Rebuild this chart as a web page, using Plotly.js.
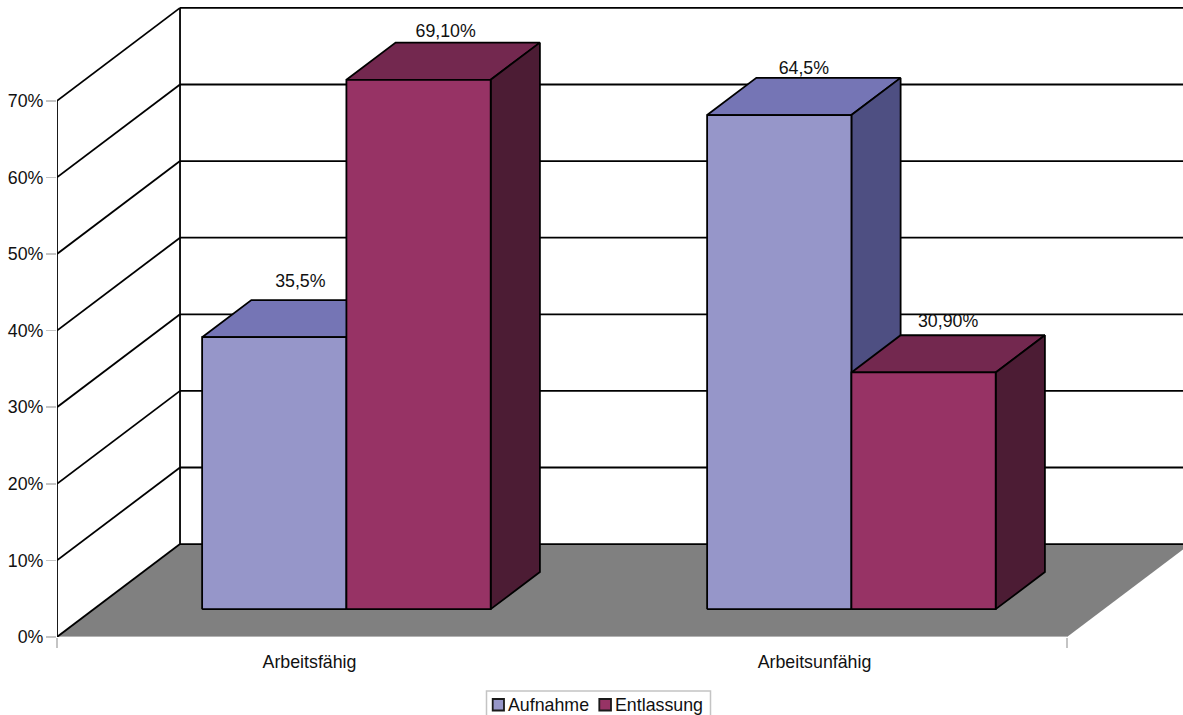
<!DOCTYPE html>
<html>
<head>
<meta charset="utf-8">
<script src="https://cdn.plot.ly/plotly-3.0.1.min.js"></script>
<style>html,body{margin:0;padding:0;background:#fff;overflow:hidden}</style>
</head>
<body>
<div id="chart" style="width:1183px;height:715px"></div>
<script>
// Values
var categories = ['Arbeitsfähig', 'Arbeitsunfähig'];
var seriesNames = ['Aufnahme', 'Entlassung'];
var aufnahme = [35.5, 64.5];
var entlassung = [69.1, 30.9];
var aufnahmeLabels = ['35,5%', '64,5%'];
var entlassungLabels = ['69,10%', '30,90%'];
var aufnahmeLabelLift = [4.7, 3.5];
var entlassungLabelLift = [3.8, 4.1];
var aufnahmeLabelNudge = [0.003, 0];
var entlassungLabelNudge = [0.005, 0];
var yTicks = [0, 10, 20, 30, 40, 50, 60, 70];
var yTickLabels = ['0%', '10%', '20%', '30%', '40%', '50%', '60%', '70%'];

// Colours: front, top, side of each series
var aufnahmeColors = ['#9696c9', '#7575b5', '#4e4f82'];
var entlassungColors = ['#973365', '#73284f', '#4c1c34'];
var floorColor = '#808080';
var edge = '#000000';
var tickGrey = '#c4c4c4';
var textColor = '#111111';
var fontFamily = '"Liberation Sans", Arial, sans-serif';
var fontSize = 17.8;
var edgeWidth = 1.8;

// Oblique projection of the chart box, in axis units
var wallDepthX = 0.2436;   // category units
var wallDepthY = 12.13;    // percent units
var barDepthStart = 0.3;   // fraction of box depth
var barDepthEnd = 0.7;
var barWidth = 1 / 3.5;    // category units
var yMax = 70;

function project(x, y, depth) {
  return [x + depth * wallDepthX, y + depth * wallDepthY];
}

function poly(points, color, width, lineColor) {
  return {
    type: 'scatter', mode: 'lines', x: points.map(function (p) { return p[0]; }),
    y: points.map(function (p) { return p[1]; }),
    fill: 'toself', fillcolor: color,
    line: {color: lineColor || edge, width: width === undefined ? edgeWidth : width},
    cliponaxis: false, hoverinfo: 'skip', showlegend: false
  };
}

function line(points, color, width) {
  return {
    type: 'scatter', mode: 'lines', x: points.map(function (p) { return p[0]; }),
    y: points.map(function (p) { return p[1]; }),
    line: {color: color || edge, width: width || edgeWidth},
    cliponaxis: false, hoverinfo: 'skip', showlegend: false
  };
}

// One box: top and side first, front face last
function box(x0, x1, v, colors) {
  var d0 = barDepthStart, d1 = barDepthEnd;
  return [
    poly([project(x0, v, d0), project(x0, v, d1), project(x1, v, d1), project(x1, v, d0), project(x0, v, d0)], colors[1]),
    poly([project(x1, 0, d0), project(x1, 0, d1), project(x1, v, d1), project(x1, v, d0), project(x1, 0, d0)], colors[2]),
    poly([project(x0, 0, d0), project(x1, 0, d0), project(x1, v, d0), project(x0, v, d0), project(x0, 0, d0)], colors[0])
  ];
}

var traces = [];

// Floor, running out past the right edge of the page
traces.push(poly([project(0, 0, 0), project(2, 0, 0), project(2, 0, 1), project(0, 0, 1), project(0, 0, 0)], floorColor, 0));
traces.push(line([project(0, 0, 0), project(2, 0, 0)], tickGrey, 1.5));
traces.push(line([project(0, 0, 1), project(2, 0, 1)]));

// Side and back wall grid
yTicks.forEach(function (t) {
  if (t > 0) traces.push(line([project(0, t, 1), project(2, t, 1)]));
  traces.push(line([project(0, t, 0), project(0, t, 1)]));
});
traces.push(line([project(0, 0, 0), project(0, yMax, 0)]));
traces.push(line([project(0, 0, 1), project(0, yMax, 1)]));

// Bars, back to front inside each category
categories.forEach(function (c, i) {
  var mid = i + 0.5;
  traces = traces.concat(box(mid - barWidth, mid, aufnahme[i], aufnahmeColors));
  traces = traces.concat(box(mid, mid + barWidth, entlassung[i], entlassungColors));
});

// Value labels above the top faces
function labelTrace(values, labels, lifts, nudges, offset) {
  var depth = (barDepthStart + barDepthEnd) / 2;
  var pts = values.map(function (v, i) {
    return project(i + 0.5 + offset * barWidth + nudges[i], v + lifts[i], depth);
  });
  return {
    type: 'scatter', mode: 'text', x: pts.map(function (p) { return p[0]; }),
    y: pts.map(function (p) { return p[1]; }), text: labels,
    textposition: 'middle center', textfont: {family: fontFamily, size: fontSize, color: textColor},
    cliponaxis: false, hoverinfo: 'skip', showlegend: false
  };
}
traces.push(labelTrace(aufnahme, aufnahmeLabels, aufnahmeLabelLift, aufnahmeLabelNudge, -0.5));
traces.push(labelTrace(entlassung, entlassungLabels, entlassungLabelLift, entlassungLabelNudge, 0.5));

// Page layout, in pixels
var W = 1183, H = 715, L = 57, B = 78;
var unitX = 505, unitY = 7.66;
function paperX(px) { return (px - L) / (W - L); }
function paperY(py) { return (H - B - py) / (H - B); }

function legendSwatch(x0, x1, color) {
  return {type: 'rect', xref: 'paper', yref: 'paper', x0: paperX(x0), x1: paperX(x1),
    y0: paperY(710.5), y1: paperY(699), fillcolor: color, line: {color: '#1a1a1a', width: 1.8}};
}
function legendText(px, text) {
  return {xref: 'paper', yref: 'paper', x: paperX(px), y: paperY(705), text: text, showarrow: false,
    xanchor: 'left', yanchor: 'middle', borderpad: 0,
    font: {family: fontFamily, size: fontSize, color: textColor}};
}

var layout = {
  width: W, height: H, showlegend: false,
  margin: {l: L, r: 0, t: 0, b: B, pad: 0},
  paper_bgcolor: '#ffffff', plot_bgcolor: 'rgba(0,0,0,0)',
  font: {family: fontFamily, size: fontSize, color: textColor},
  xaxis: {
    range: [0, (W - L) / unitX], showgrid: false, zeroline: false, showline: false,
    tickmode: 'array', tickvals: [0.5, 1.5], ticktext: categories, ticks: '', ticklabelstandoff: 12,
    minor: {tickmode: 'array', tickvals: [0, 2], ticks: 'outside', ticklen: 10, tickwidth: 1.5, tickcolor: tickGrey, showgrid: false},
    fixedrange: true
  },
  yaxis: {
    range: [0, (H - B) / unitY], showgrid: false, zeroline: false, showline: false,
    tickmode: 'array', tickvals: yTicks, ticktext: yTickLabels, ticklabelstandoff: -1,
    ticks: 'outside', ticklen: 10, tickwidth: 1.5, tickcolor: tickGrey, fixedrange: true
  },
  shapes: [
    {type: 'rect', xref: 'paper', yref: 'paper', x0: paperX(486.5), x1: paperX(710.5),
      y0: paperY(717), y1: paperY(691), fillcolor: '#ffffff', line: {color: tickGrey, width: 1.5}},
    legendSwatch(492.7, 504, aufnahmeColors[0]),
    legendSwatch(599.3, 611, entlassungColors[0])
  ],
  annotations: [legendText(507, seriesNames[0]), legendText(614, seriesNames[1])]
};

Plotly.newPlot('chart', traces, layout, {displayModeBar: false, staticPlot: true});
</script>
</body>
</html>
